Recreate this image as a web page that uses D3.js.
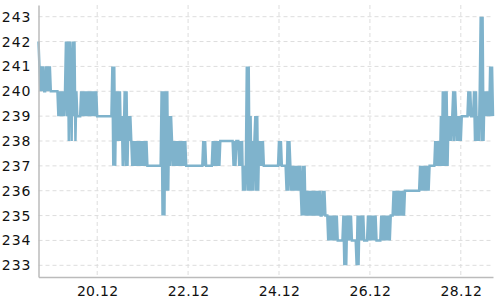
<!DOCTYPE html>
<html>
<head>
<meta charset="utf-8">
<script src="https://d3js.org/d3.v7.min.js"></script>
<style>
  body { margin: 0; background: #fff; }
  .axis text { font-family: "DejaVu Sans", sans-serif; font-size: 14px; fill: #111; }
  .axis .domain { stroke: #bbb; stroke-width: 1.5; }
  .grid line { stroke: #ddd; stroke-dasharray: 4 3; }
</style>
</head>
<body>
<svg id="chart"></svg>
<script>
// readings every 30 minutes, one string per day, char = level above base (a = 10)
const startTime = "2019-12-18T17:00:00";
const stepMinutes = 30;
const baseLevel = 233;
const day18 = "98787877878787";
const day19 = "777777767676767969598596957666676767676767676767";
const day20 = "666666666666666684847575756457474656545454545454";
const day21 = "545454444444444444447272737364654545454545454544";
const day22 = "444444444444444454544444445454545455555555555555";
const day23 = "454555454534348383635356363545454444444444444444";
const day24 = "545444443535434343434343242423232323232323232232";
const day25 = "322212121212121111112020212121111102021212111121";
const day26 = "212121211111212121212122232323232323233333333333";
const day27 = "333334343434343444444545454647474746565675765656";
const day28 = "56666666767666757565" + "7a5a57676768686";

const yTicks = [233, 234, 235, 236, 237, 238, 239, 240, 241, 242, 243];
const xTicks = ["2019-12-20", "2019-12-22", "2019-12-24", "2019-12-26", "2019-12-28"];

const w = 500;
const h = 300;
const margin = { top: 5, right: 7, bottom: 23, left: 38.5 };
const width = w - margin.left - margin.right;
const height = h - margin.top - margin.bottom;

const t0 = new Date(startTime);
const levels = [day18, day19, day20, day21, day22, day23, day24, day25, day26, day27, day28].join("");
const data = Array.from(levels).map((c, i) => ({
  date: new Date(+t0 + i * stepMinutes * 60000),
  value: baseLevel + parseInt(c, 16),
}));

let svg = d3.select("#chart").attr("width", w).attr("height", h);
let g = svg.append("g").attr("transform", `translate(${margin.left},${margin.top})`);

let x = d3.scaleTime().domain(d3.extent(data, (d) => d.date)).range([0, width]);
let y = d3.scaleLinear().domain([232.53, 243.47]).range([height, 0]);
const tickDates = xTicks.map((s) => new Date(s + "T00:00:00"));

// grid
g.append("g")
  .attr("class", "grid")
  .selectAll("line")
  .data(yTicks)
  .enter()
  .append("line")
  .attr("x1", 0)
  .attr("x2", width)
  .attr("y1", (d) => y(d))
  .attr("y2", (d) => y(d));
g.append("g")
  .attr("class", "grid")
  .selectAll("line")
  .data(tickDates)
  .enter()
  .append("line")
  .attr("y1", 0)
  .attr("y2", height)
  .attr("x1", (d) => x(d))
  .attr("x2", (d) => x(d));

const line = d3
  .line()
  .x((d) => x(d.date))
  .y((d) => y(d.value));
g.append("path")
  .datum(data)
  .attr("fill", "none")
  .attr("stroke", "#7fb3cc")
  .attr("stroke-width", 2.5)
  .attr("d", line);

g.append("g")
  .attr("class", "axis")
  .call(d3.axisLeft(y).tickValues(yTicks).tickSize(0).tickSizeOuter(0).tickPadding(7).tickFormat(d3.format("d")))
  .call((a) => a.selectAll("text").attr("letter-spacing", 1));
g.append("g")
  .attr("class", "axis")
  .attr("transform", `translate(0,${height})`)
  .call(d3.axisBottom(x).tickValues(tickDates).tickSize(0).tickSizeOuter(0).tickPadding(9).tickFormat(d3.timeFormat("%d.%m")))
  .call((a) => a.selectAll("text").attr("letter-spacing", 0.3));
</script>
</body>
</html>
